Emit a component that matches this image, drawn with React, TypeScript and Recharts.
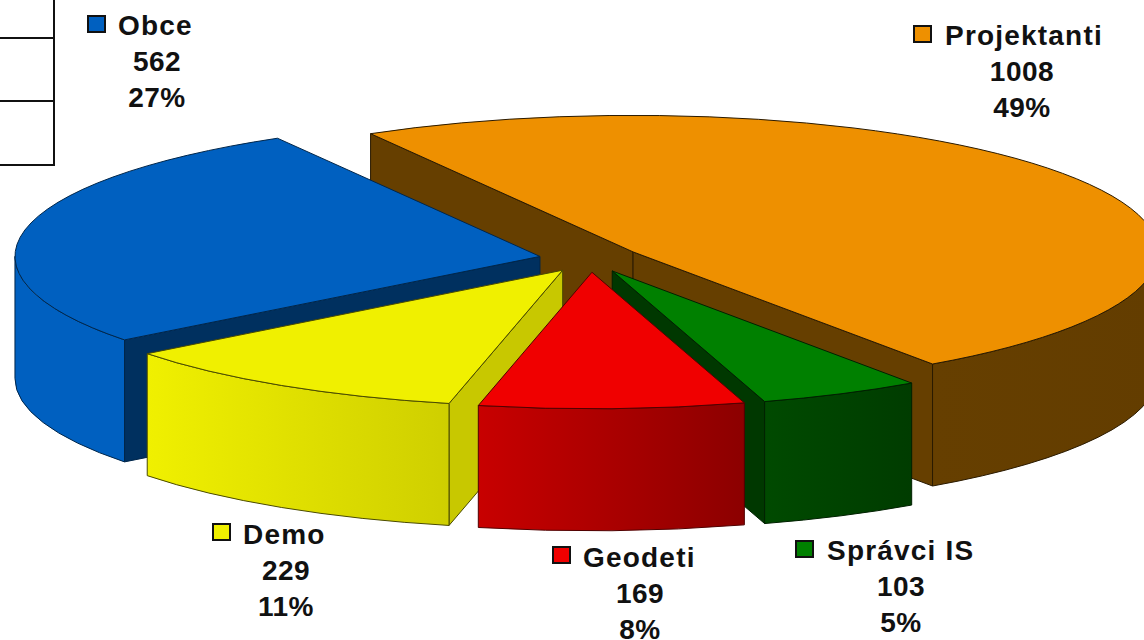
import React from "react";
import { PieChart, Pie } from "recharts";

const categories = ["Projektanti", "Správci IS", "Geodeti", "Demo", "Obce"];
const counts = [1008, 103, 169, 229, 562];
const drawOrder = ["Projektanti", "Obce", "Demo", "Správci IS", "Geodeti"];

const rows = categories.map((name, i) => ({ name, value: counts[i] }));

type Look = { top: string; wallFrom: string; wallTo: string; cut: string; edge: string };
const looks: Record<string, Look> = {
  Projektanti: { top: "#ee9000", wallFrom: "#663f00", wallTo: "#633d00", cut: "#663f00", edge: "#2a1a00" },
  "Správci IS": { top: "#008000", wallFrom: "#004a00", wallTo: "#003c00", cut: "#003800", edge: "#002000" },
  Geodeti: { top: "#f00000", wallFrom: "#c80000", wallTo: "#8c0000", cut: "#800000", edge: "#500000" },
  Demo: { top: "#f0f000", wallFrom: "#f0f000", wallTo: "#cfcf00", cut: "#c8c800", edge: "#4a4a00" },
  Obce: { top: "#0060c0", wallFrom: "#0060c0", wallTo: "#0060c0", cut: "#00305f", edge: "#00264a" },
};
const labelAt: Record<string, { keyX: number; keyY: number; nameX: number; midX: number; base: number }> = {
  Projektanti: { keyX: 914, keyY: 26, nameX: 945, midX: 1022, base: 45 },
  "Správci IS": { keyX: 796, keyY: 541, nameX: 827, midX: 901, base: 560 },
  Geodeti: { keyX: 553, keyY: 547, nameX: 583, midX: 640, base: 567 },
  Demo: { keyX: 213, keyY: 524, nameX: 243, midX: 286, base: 544 },
  Obce: { keyX: 88, keyY: 16, nameX: 118, midX: 157, base: 35 },
};

const TILT = 0.26;
const DEPTH = 122;
const EXPLODE = 51;
const rad = (d: number) => (d * Math.PI) / 180;
const fmt = (n: number) => n.toFixed(2);

function Slice(props: any) {
  const { cx, cy, outerRadius, startAngle, endAngle, percent, only } = props;
  const name = props.name ?? props.payload?.name;
  if (name !== only) return null;
  const value = props.value ?? props.payload?.value;
  const look = looks[name];
  const rx = outerRadius;
  const ry = outerRadius * TILT;
  const hi = Math.max(startAngle, endAngle);
  const lo = Math.min(startAngle, endAngle);
  const mid = (hi + lo) / 2;
  const ax = cx + EXPLODE * Math.cos(rad(mid));
  const ay = cy - EXPLODE * TILT * Math.sin(rad(mid));
  const pt = (t: number) => [ax + rx * Math.cos(rad(t)), ay - ry * Math.sin(rad(t))];
  const arc = (from: number, to: number, dy = 0) => {
    const [x2, y2] = pt(to);
    return `A ${fmt(rx)} ${fmt(ry)} 0 ${from - to > 180 ? 1 : 0} 1 ${fmt(x2)} ${fmt(y2 + dy)}`;
  };
  const [hx, hy] = pt(hi);
  const [lx, ly] = pt(lo);
  const topPath = `M ${fmt(ax)} ${fmt(ay)} L ${fmt(hx)} ${fmt(hy)} ${arc(hi, lo)} Z`;
  const cut = (x: number, y: number) =>
    `M ${fmt(ax)} ${fmt(ay)} L ${fmt(x)} ${fmt(y)} L ${fmt(x)} ${fmt(y + DEPTH)} L ${fmt(ax)} ${fmt(ay + DEPTH)} Z`;
  const hiFacesViewer = Math.cos(rad(hi)) < 0;
  const loFacesViewer = Math.cos(rad(lo)) > 0;
  const wHi = Math.min(hi, 0);
  const wLo = Math.max(lo, -180);
  const [w1x, w1y] = pt(wHi);
  const [w2x, w2y] = pt(wLo);
  const wallPath =
    `M ${fmt(w1x)} ${fmt(w1y)} ${arc(wHi, wLo)} L ${fmt(w2x)} ${fmt(w2y + DEPTH)} ` +
    `A ${fmt(rx)} ${fmt(ry)} 0 0 0 ${fmt(w1x)} ${fmt(w1y + DEPTH)} Z`;
  const gid = `wall-${categories.indexOf(name)}`;
  const at = labelAt[name];
  const text = { fontFamily: "'Liberation Sans', Arial, sans-serif", fontWeight: 700, fontSize: 28, fill: "#111" };
  return (
    <g>
      <defs>
        <linearGradient id={gid} gradientUnits="userSpaceOnUse" x1={w2x} x2={w1x} y1={0} y2={0}>
          <stop offset="0" stopColor={look.wallFrom} />
          <stop offset="1" stopColor={look.wallTo} />
        </linearGradient>
      </defs>
      {hiFacesViewer && <path d={cut(hx, hy)} fill={look.cut} stroke={look.edge} strokeWidth={1} strokeLinejoin="round" />}
      {loFacesViewer && <path d={cut(lx, ly)} fill={look.cut} stroke={look.edge} strokeWidth={1} strokeLinejoin="round" />}
      <path d={wallPath} fill={`url(#${gid})`} stroke={look.edge} strokeWidth={1} strokeLinejoin="round" />
      <path d={topPath} fill={look.top} stroke={look.edge} strokeWidth={1} strokeLinejoin="round" />
      <rect x={at.keyX} y={at.keyY} width={17} height={16} fill={look.top} stroke="#111" strokeWidth={2} />
      <text x={at.nameX} y={at.base} letterSpacing={1.2} {...text}>{name}</text>
      <text x={at.midX} y={at.base + 36} textAnchor="middle" letterSpacing={0.5} {...text}>{value}</text>
      <text x={at.midX} y={at.base + 72} textAnchor="middle" letterSpacing={0.5} {...text}>
        {`${Math.round(percent * 100)}%`}
      </text>
    </g>
  );
}

export default function App() {
  return (
    <div style={{ position: "absolute", left: 0, top: 0, width: 1144, height: 640, overflow: "hidden", background: "#fff" }}>
      <div style={{ position: "absolute", left: 0, top: 0, width: 53, height: 164, borderRight: "2px solid #111", borderBottom: "2px solid #111" }}>
        <div style={{ position: "absolute", left: 0, top: 37, width: 53, borderTop: "2px solid #111" }} />
        <div style={{ position: "absolute", left: 0, top: 100, width: 53, borderTop: "2px solid #111" }} />
      </div>
      <div style={{ position: "absolute", left: 0, top: 0 }}>
        <PieChart width={1144} height={640} margin={{ top: 0, right: 0, bottom: 0, left: 0 }}>
          {drawOrder.map((only) => (
            <Pie
              key={only}
              data={rows}
              dataKey="value"
              nameKey="name"
              cx={590}
              cy={259}
              innerRadius={0}
              outerRadius={525}
              startAngle={120}
              endAngle={-240}
              paddingAngle={0}
              stroke="none"
              isAnimationActive={false}
              labelLine={false}
              label={false}
              shape={(p: any) => <Slice {...p} only={only} />}
              inactiveShape={(p: any) => <Slice {...p} only={only} />}
              activeShape={(p: any) => <Slice {...p} only={only} />}
            />
          ))}
        </PieChart>
      </div>
    </div>
  );
}
